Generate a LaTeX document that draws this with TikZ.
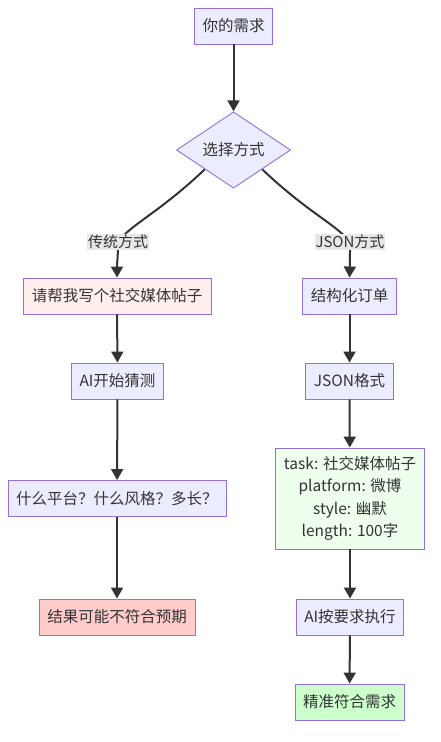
\documentclass[tikz,border=0pt]{standalone}
\usepackage{fontspec}
\setmainfont{Noto Sans CJK SC}
\usetikzlibrary{shapes.geometric,arrows.meta}
\definecolor{nfill}{HTML}{ECECFF}
\definecolor{nstroke}{HTML}{9370DB}
\definecolor{lcol}{HTML}{333333}
\definecolor{pinkfill}{HTML}{FFEEEE}
\definecolor{redfill}{HTML}{FFCCCC}
\definecolor{lgreen}{HTML}{EEFFEE}
\definecolor{green}{HTML}{CCFFCC}
\definecolor{lblbg}{HTML}{E8E8E8}
\tikzset{
  box/.style={draw=nstroke, fill=nfill, line width=0.9pt, minimum height=36pt, inner xsep=8pt, inner ysep=0pt, font=\fontsize{15.5}{22.3}\selectfont, text=lcol},
  dia/.style={box, shape=diamond, aspect=1, minimum size=114pt, inner sep=0pt, minimum height=0pt},
  conn/.style={draw=lcol, line width=2pt, -{Triangle[length=11pt,width=12pt]}},
  elabel/.style={fill=lblbg, inner sep=1pt, font=\fontsize{15}{18}\selectfont, text=lcol}
}
\begin{document}
\begin{tikzpicture}[x=1pt,y=-1pt]
\useasboundingbox (0,0) rectangle (440,742);
\node[box, minimum width=77pt] (need) at (233.5,26) {你的需求};
\node[dia] (choose) at (233.5,150) {选择方式};
\node[box, fill=pinkfill, minimum width=188pt] (req) at (117,296) {请帮我写个社交媒体帖子};
\node[box, minimum width=93pt] (order) at (349.5,296) {结构化订单};
\node[box, minimum width=91pt] (guess) at (117.5,381) {AI开始猜测};
\node[box, minimum width=81pt] (json) at (349.5,381) {JSON格式};
\node[box, minimum width=218pt] (ask) at (117,498.5) {什么平台？什么风格？多长？};
\node[box, fill=lgreen, minimum width=148pt, minimum height=101pt, align=center] (spec) at (350,498.5) {task: 社交媒体帖子\\platform: 微博\\style: 幽默\\length: 100字};
\node[box, fill=redfill, minimum width=156pt] (bad) at (117,617) {结果可能不符合预期};
\node[box, minimum width=106pt] (exec) at (350,617) {AI按要求执行};
\node[box, fill=green, minimum width=109pt] (good) at (349.5,702) {精准符合需求};

\coordinate (l1) at (118,242);
\coordinate (l2) at (350,242);
\draw[conn] (need) -- (choose);
\draw[conn] (choose.south west) .. controls (160,212) and (130,225) .. (l1) .. controls (118,258) and (117,262) .. (req.north);
\draw[conn] (choose.south east) .. controls (307,212) and (337,225) .. (l2) .. controls (350,258) and (350,262) .. (order.north);
\node[elabel] at (l1) {传统方式};
\node[elabel] at (l2) {JSON方式};
\draw[conn] (req) -- (guess);
\draw[conn] (guess) -- (ask);
\draw[conn] (ask) -- (bad);
\draw[conn] (order) -- (json);
\draw[conn] (json) -- (spec);
\draw[conn] (spec) -- (exec);
\draw[conn] (exec) -- (good);
\end{tikzpicture}
\end{document}
